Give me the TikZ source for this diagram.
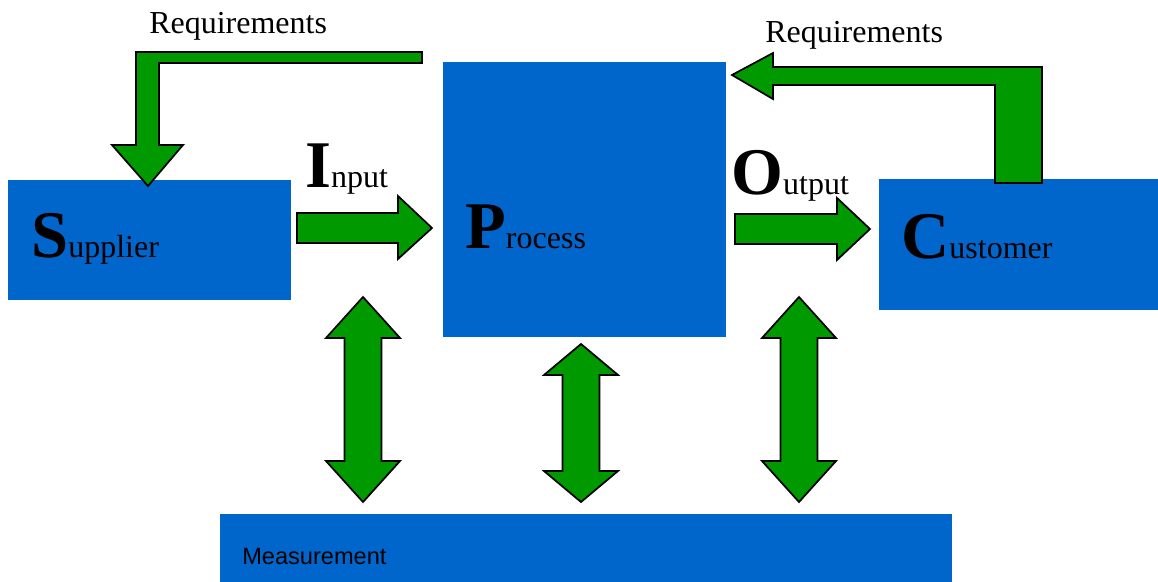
\documentclass[tikz,border=0pt]{standalone}
\usepackage{fontspec}
\setmainfont{Liberation Serif}
\newfontfamily\arialfont{Liberation Sans}
\definecolor{boxblue}{HTML}{0066CC}
\definecolor{arrowgreen}{HTML}{009900}
% initial letter set large and bold, rest of the word small
\newcommand{\initword}[2]{{\fontsize{50}{56}\selectfont\bfseries #1}{\fontsize{24}{28}\selectfont #2}}
% vertical two-headed block arrow: centre x, top tip y, bottom tip y, head length
\newcommand{\vdarrow}[4]{%
  \draw[blockarrow] (#1,#2) -- (#1+37,#2+#4) -- (#1+18.5,#2+#4) -- (#1+18.5,#3-#4)
    -- (#1+37,#3-#4) -- (#1,#3) -- (#1-37,#3-#4) -- (#1-18.5,#3-#4)
    -- (#1-18.5,#2+#4) -- (#1-37,#2+#4) -- cycle;}
\begin{document}
\begin{tikzpicture}[x=0.75pt,y=-0.75pt,
  blockbox/.style={fill=boxblue,draw=none,inner sep=0pt,anchor=center},
  blockarrow/.style={fill=arrowgreen,draw=black,line width=1.3pt,line join=miter},
  label/.style={anchor=base west,inner sep=0pt,text=black}]
\useasboundingbox (0,0) rectangle (1158,582);

% blue blocks
\node[blockbox,minimum width=212.25pt,minimum height=90pt] (sup) at (149.5,240) {};
\node[blockbox,minimum width=212.25pt,minimum height=206.25pt] (proc) at (584.5,199.5) {};
\node[blockbox,minimum width=209.25pt,minimum height=98.25pt] (cust) at (1018.5,244.5) {};
\node[blockbox,minimum width=549pt,minimum height=51pt] (meas) at (586,548) {};

% input and output arrows
\draw[blockarrow] (297,213) -- (398,213) -- (398,196) -- (432,228) -- (398,259)
  -- (398,243) -- (297,243) -- cycle;
\draw[blockarrow] (735,214) -- (837,214) -- (837,198) -- (870,229) -- (837,260)
  -- (837,244) -- (735,244) -- cycle;

% requirements arrows
\draw[blockarrow] (422,52) -- (422,63) -- (159,63) -- (159,145) -- (183,145)
  -- (148,186) -- (112,145) -- (136,145) -- (136,52) -- cycle;
\draw[blockarrow] (1042,67) -- (1042,183) -- (995,183) -- (995,85) -- (773,85)
  -- (773,99) -- (732,75) -- (773,53) -- (773,67) -- cycle;

% measurement arrows
\vdarrow{363}{297}{502}{41}
\vdarrow{581}{344}{502}{31}
\vdarrow{799}{297}{502}{41}

% texts
\node[label,font=\fontsize{24}{28}\selectfont] (reqL) at (149,33) {Requirements};
\node[label,font=\fontsize{24}{28}\selectfont] (reqR) at (765,42) {Requirements};
\node[label] (inp) at (305,187) {\initword{I}{nput}};
\node[label] (outp) at (731,194) {\initword{O}{utput}};
\node[label] (supT) at (31,257) {\initword{S}{upplier}};
\node[label] (procT) at (465,248) {\initword{P}{rocess}};
\node[label] (custT) at (901,258) {\initword{C}{ustomer}};
\node[label,font=\arialfont\fontsize{17.7}{21}\selectfont] (measT) at (242,564) {Measurement};
\end{tikzpicture}
\end{document}
